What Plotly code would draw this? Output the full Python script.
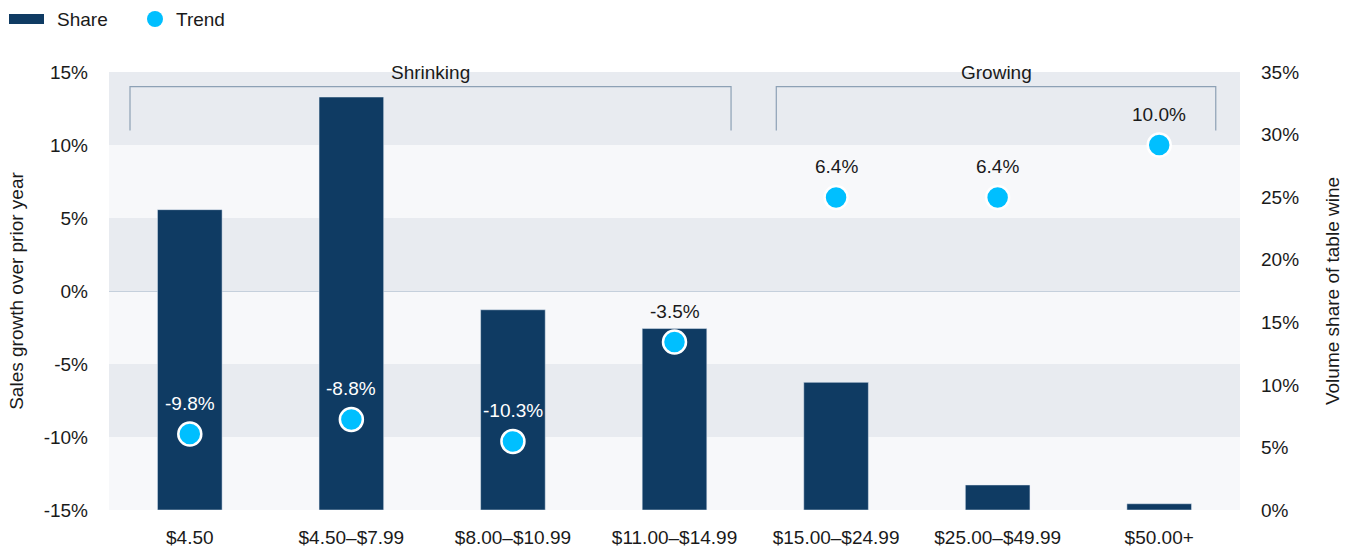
import plotly.graph_objects as go

categories = ["$4.50", "$4.50\u2013$7.99", "$8.00\u2013$10.99", "$11.00\u2013$14.99",
              "$15.00\u2013$24.99", "$25.00\u2013$49.99", "$50.00+"]
share = [24.0, 33.0, 16.0, 14.5, 10.2, 2.0, 0.5]          # right axis, %
trend = [-9.8, -8.8, -10.3, -3.5, 6.4, 6.4, 10.0]          # left axis, %
trend_labels = ["-9.8%", "-8.8%", "-10.3%", "-3.5%", "6.4%", "6.4%", "10.0%"]
groups = [("Shrinking", 0, 3), ("Growing", 4, 6)]
left_ticks = [-15, -10, -5, 0, 5, 10, 15]
right_ticks = [0, 5, 10, 15, 20, 25, 30, 35]

BAR = "#0f3b63"
DOT = "#00bfff"
TXT = "#1a1a1a"
FONT = "Liberation Sans, Arial, sans-serif"
FS = 19
L_MIN, L_MAX = -15, 15
R_MIN, R_MAX = 0, 35

W, H = 1353, 548
ML, MR, MT, MB = 109, 113, 72, 38
PW, PH = W - ML - MR, H - MT - MB

fig = go.Figure()
fig.add_trace(go.Bar(x=list(range(len(categories))), y=share, name="Share",
                     marker_color=BAR, width=0.4, yaxis="y", hoverinfo="skip"))
fig.add_trace(go.Scatter(x=list(range(len(categories))), y=trend, name="Trend",
                         mode="markers", yaxis="y2",
                         marker=dict(color=DOT, size=23, line=dict(color="white", width=2.5))))

# alternating bands (left axis steps of 5)
shapes = []
nb = (L_MAX - L_MIN) // 5
for i in range(nb):
    color = "#f7f8fa" if i % 2 == 0 else "#e8ebf0"
    shapes.append(dict(type="rect", xref="paper", yref="paper", x0=0, x1=1,
                       y0=i / nb, y1=(i + 1) / nb, fillcolor=color, line_width=0, layer="below"))

annotations = []
# group brackets
for name, a, b in groups:
    x0, x1 = a - 0.37, b + 0.35
    yt, yb = 14, 11
    shapes.append(dict(type="path", xref="x", yref="y2",
                       path=f"M {x0} {yb} L {x0} {yt} L {x1} {yt} L {x1} {yb}",
                       line=dict(color="#8da1b5", width=1.2), layer="above"))
    annotations.append(dict(x=(x0 + x1) / 2, y=15, xref="x", yref="y2", text=name,
                            showarrow=False, yanchor="middle",
                            font=dict(size=FS, color=TXT, family=FONT)))

# data labels
px_per_left = PH / (L_MAX - L_MIN)
for i, (v, lab) in enumerate(zip(trend, trend_labels)):
    label_pos = v + 31 / px_per_left
    label_share = (label_pos - L_MIN) / (L_MAX - L_MIN) * (R_MAX - R_MIN)
    color = "white" if label_share < share[i] else TXT
    annotations.append(dict(x=i, y=v, xref="x", yref="y2", text=lab, showarrow=False,
                            yshift=31, font=dict(size=FS, color=color, family=FONT)))

# custom legend (pixel positions converted to paper coords)
def px(xp):
    return (xp - ML) / PW

def py(yp):
    return (H - MB - yp) / PH

shapes.append(dict(type="rect", xref="paper", yref="paper", x0=px(9), x1=px(44),
                   y0=py(24), y1=py(14), fillcolor=BAR, line_width=0))
shapes.append(dict(type="circle", xref="paper", yref="paper", x0=px(147), x1=px(163),
                   y0=py(27), y1=py(11), fillcolor=DOT, line_width=0))
for label, xp in [("Share", 55), ("Trend", 174)]:
    annotations.append(dict(x=px(xp), y=py(19), xref="paper", yref="paper", text=label,
                            showarrow=False, xanchor="left", yanchor="middle",
                            font=dict(size=FS, color=TXT, family=FONT)))

fig.update_layout(
    width=W, height=H,
    margin=dict(l=ML, r=MR, t=MT, b=MB, autoexpand=False),
    paper_bgcolor="white", plot_bgcolor="rgba(0,0,0,0)",
    font=dict(family=FONT, size=FS, color=TXT),
    showlegend=False,
    xaxis=dict(tickmode="array", tickvals=list(range(len(categories))), ticktext=categories,
               range=[-0.5, len(categories) - 0.5], showgrid=False, zeroline=False,
               showline=False, ticks="", ticklabelstandoff=14, fixedrange=True),
    yaxis=dict(side="right", range=[R_MIN, R_MAX], tickvals=right_ticks,
               ticktext=[f"{t}%" for t in right_ticks], showgrid=False, zeroline=False,
               ticks="", ticklabelstandoff=20,
               title=dict(text="Volume share of table wine", standoff=27, font=dict(size=FS))),
    yaxis2=dict(side="left", overlaying="y", range=[L_MIN, L_MAX], tickvals=left_ticks,
                ticktext=[f"{t}%" for t in left_ticks], showgrid=False,
                zeroline=True, zerolinecolor="#c5d0dc", zerolinewidth=1,
                ticks="", ticklabelstandoff=20,
                title=dict(text="Sales growth over prior year", standoff=14, font=dict(size=FS))),
    shapes=shapes, annotations=annotations,
)

fig.write_html("out.html", config={"displayModeBar": False},
               post_script="document.body.style.margin='0';"
                           "document.documentElement.style.overflow='hidden';")
